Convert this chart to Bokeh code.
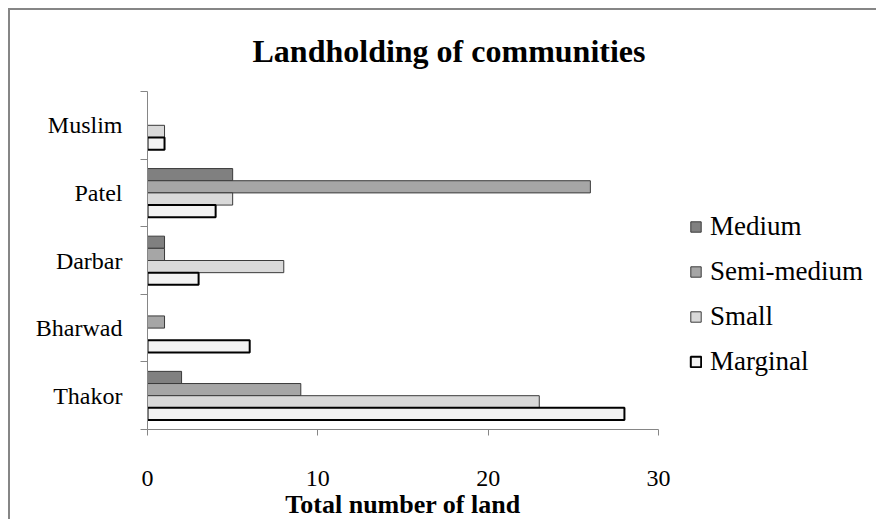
from bokeh.plotting import figure
from bokeh.models import ColumnDataSource, FixedTicker, Legend, LegendItem, LinearAxis
from bokeh.embed import file_html
from bokeh.resources import INLINE

# ---- data (bottom to top, as drawn) ----
communities = ["Thakor", "Bharwad", "Darbar", "Patel", "Muslim"]
series_names = ["Medium", "Semi-medium", "Small", "Marginal"]
medium = [2, 0, 1, 5, 0]
semi_medium = [9, 1, 1, 26, 0]
small = [23, 0, 8, 5, 1]
marginal = [28, 6, 3, 4, 1]
x_ticks = [0, 10, 20, 30]
x_title_text = "Total number of land"

series_values = [medium, semi_medium, small, marginal]
fills = ["#808080", "#A6A6A6", "#D9D9D9", "#F2F2F2"]
lines = ["#3A3A3A", "#3A3A3A", "#3A3A3A", "#000000"]
line_widths = [1, 1, 1, 2]

FONT = "Liberation Serif"
AXIS_GREY = "#868686"

# layout: the value axis (0..30) covers 511 px; the frame continues to the
# right to host the legend, the axis line itself is bounded to 0..30
W, H = 868, 511
left_b, right_b, top_b, bottom_b = 137, 8, 81, 87
axis_px = 511
frame_w = W - left_b - right_b
x_max = x_ticks[-1]
x_end = x_max * frame_w / axis_px

p = figure(width=W, height=H, output_backend="svg", toolbar_location=None,
           x_range=(0, x_end), y_range=(0, len(communities)),
           min_border_left=left_b, min_border_right=right_b,
           min_border_top=top_b, min_border_bottom=bottom_b)
p.styles = {"margin-left": "8px", "margin-top": "8px",
            "border-top": "2px solid #868686", "border-left": "2px solid #868686"}
p.outline_line_color = None
p.grid.grid_line_color = None
p.background_fill_color = "white"
p.border_fill_color = "white"

bar_h = 0.18
renderers = []
for k, (name, vals) in enumerate(zip(series_names, series_values)):
    off = (1.5 - k) * bar_h
    ys = [i + 0.5 + off for i, v in enumerate(vals) if v > 0]
    xs = [v for v in vals if v > 0]
    src = ColumnDataSource(dict(y=ys, right=xs))
    r = p.hbar(y="y", right="right", left=0, height=bar_h, source=src,
               fill_color=fills[k], line_color=lines[k], line_width=line_widths[k])
    renderers.append((name, r))

# title
p.title.text = "Landholding of communities"
p.title.text_font = FONT
p.title.text_font_size = "32px"
p.title.text_font_style = "bold"
p.title.text_color = "black"
p.title.align = "left"
p.title.vertical_align = "top"
p.title.offset = 105
if "standoff" in p.title.properties():
    p.title.standoff = 42

# x axis
p.xaxis.bounds = (0, x_max)
p.xaxis.ticker = FixedTicker(ticks=x_ticks, minor_ticks=[])
p.xaxis.axis_line_color = AXIS_GREY
p.xaxis.major_tick_line_color = AXIS_GREY
p.xaxis.major_tick_out = 6
p.xaxis.major_tick_in = 0
p.xaxis.minor_tick_out = 0
p.xaxis.minor_tick_in = 0
p.xaxis.major_label_text_font = FONT
p.xaxis.major_label_text_font_size = "24px"
p.xaxis.major_label_text_color = "black"
p.xaxis.major_label_standoff = 35

# axis title, centred under the 0..30 value axis (a label-only axis)
title_axis = LinearAxis(ticker=FixedTicker(ticks=[x_max / 2], minor_ticks=[]),
                        major_label_overrides={x_max / 2: x_title_text})
title_axis.axis_line_color = None
title_axis.major_tick_line_color = None
title_axis.minor_tick_line_color = None
title_axis.major_tick_out = 0
title_axis.major_tick_in = 0
title_axis.minor_tick_out = 0
title_axis.minor_tick_in = 0
title_axis.major_label_standoff = 1
title_axis.major_label_text_font = FONT
title_axis.major_label_text_font_size = "26px"
title_axis.major_label_text_font_style = "bold"
title_axis.major_label_text_color = "black"
p.add_layout(title_axis, "below")

# y axis: labels at category centres, ticks at category boundaries
centres = [i + 0.5 for i in range(len(communities))]
bounds = [i for i in range(len(communities) + 1)]
p.yaxis.ticker = FixedTicker(ticks=centres, minor_ticks=bounds)
p.yaxis.major_label_overrides = {c: n for c, n in zip(centres, communities)}
p.yaxis.axis_line_color = AXIS_GREY
p.yaxis.major_tick_out = 0
p.yaxis.major_tick_in = 0
p.yaxis.minor_tick_out = 7
p.yaxis.minor_tick_in = 0
p.yaxis.minor_tick_line_color = AXIS_GREY
p.yaxis.major_label_text_font = FONT
p.yaxis.major_label_text_font_size = "24px"
p.yaxis.major_label_text_color = "black"
p.yaxis.major_label_standoff = 18

legend = Legend(items=[LegendItem(label=n, renderers=[r]) for n, r in renderers],
                location=(542, 52))
legend.label_text_font = FONT
legend.label_text_font_size = "27px"
legend.label_text_color = "black"
legend.glyph_width = 13
legend.glyph_height = 13
legend.label_height = 23
legend.label_standoff = 8
legend.spacing = 14
legend.padding = 0
legend.margin = 0
legend.border_line_color = None
legend.background_fill_alpha = 0
p.add_layout(legend)

open("out.html", "w").write(file_html(p, INLINE))
